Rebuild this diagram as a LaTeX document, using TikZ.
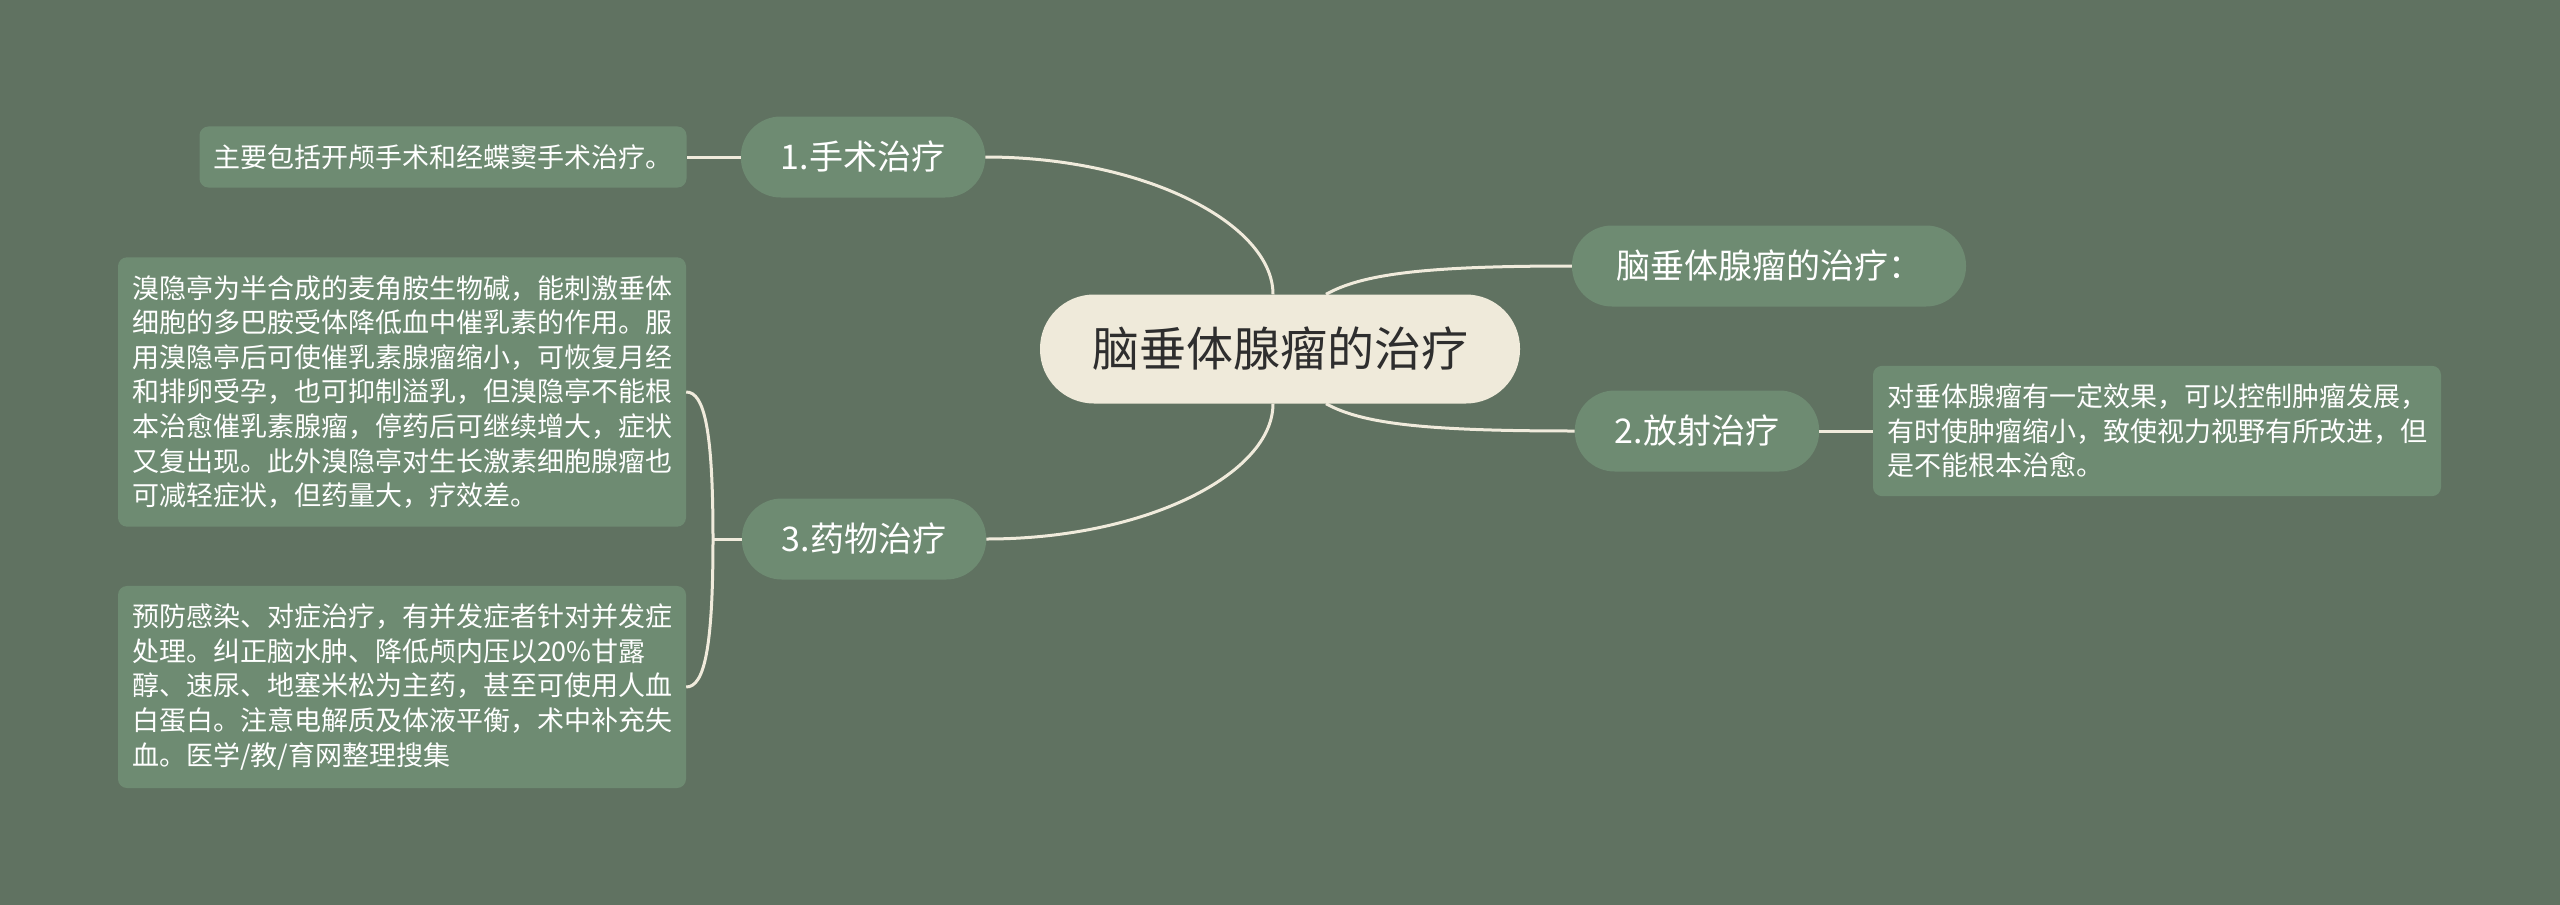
\documentclass[tikz,border=0pt]{standalone}
\usepackage{fontspec}
\newfontfamily\cjkfont{Noto Sans CJK SC}
\definecolor{bgcol}{RGB}{96,114,97}
\definecolor{leafcol}{RGB}{110,139,114}
\definecolor{linecol}{RGB}{240,235,220}
\definecolor{hubcol}{RGB}{239,234,218}
\definecolor{hubtext}{RGB}{46,46,46}

\begin{document}
\begin{tikzpicture}[x=1pt,y=-1pt,
  topic/.style={fill=leafcol, rounded corners=40pt, minimum height=81pt, inner xsep=40pt,
    text=white, font=\cjkfont\fontsize{34pt}{40pt}\selectfont},
  leaf/.style={fill=leafcol, rounded corners=9pt, inner xsep=14pt, inner ysep=18pt, align=left,
    text=white, font=\cjkfont\fontsize{27pt}{34.6pt}\selectfont},
  link/.style={draw=linecol, line width=3pt}]
% background
\fill[bgcol] (0,0) rectangle (2560,905);
\useasboundingbox (0,0) rectangle (2560,905);

% centre
\node[fill=hubcol, rounded corners=54pt, minimum height=109pt, inner xsep=52pt,
  text=hubtext, font=\cjkfont\fontsize{47pt}{52pt}\selectfont] (hub) at (1280,349) {脑垂体腺瘤的治疗};

% branches
\node[topic] (surg) at (863,157) {1.手术治疗};
\node[topic, inner xsep=44pt] (title) at (1769,266) {脑垂体腺瘤的治疗：};
\node[topic] (radio) at (1697,431) {2.放射治疗};
\node[topic] (drug) at (864,539) {3.药物治疗};

% leaves
\node[leaf] (surgtxt) at (443,157) {主要包括开颅手术和经蝶窦手术治疗。};
\node[leaf, text width=540pt] (radiotxt) at (2157,431) {对垂体腺瘤有一定效果，可以控制肿瘤发展，\\有时使肿瘤缩小，致使视力视野有所改进，但\\是不能根本治愈。};
\node[leaf, text width=540pt] (drugtxta) at (402,392) {溴隐亭为半合成的麦角胺生物碱，能刺激垂体\\细胞的多巴胺受体降低血中催乳素的作用。服\\用溴隐亭后可使催乳素腺瘤缩小，可恢复月经\\和排卵受孕，也可抑制溢乳，但溴隐亭不能根\\本治愈催乳素腺瘤，停药后可继续增大，症状\\又复出现。此外溴隐亭对生长激素细胞腺瘤也\\可减轻症状，但药量大，疗效差。};
\node[leaf, text width=540pt] (drugtxtb) at (402,687) {预防感染、对症治疗，有并发症者针对并发症\\处理。纠正脑水肿、降低颅内压以20\%甘露\\醇、速尿、地塞米松为主药，甚至可使用人血\\白蛋白。注意电解质及体液平衡，术中补充失\\血。医学/教/育网整理搜集};

% connectors
\draw[link] (surg.east) .. controls +(160,0) and +(0,-70) .. ([xshift=-7pt]hub.north);
\draw[link] (drug.east) .. controls +(160,0) and +(0,70) .. ([xshift=-7pt]hub.south);
\draw[link] ([xshift=46pt]hub.north) .. controls +(36,-20) and +(-150,0) .. (title.west);
\draw[link] ([xshift=46pt]hub.south) .. controls +(36,20) and +(-150,0) .. (radio.west);
\draw[link] (surg.west) -- (surgtxt.east);
\draw[link] (radio.east) -- (radiotxt.west);
\coordinate (fork) at (713,539);
\draw[link] (drug.west) -- (fork);
\draw[link] (fork) .. controls +(0,-110) and +(18,0) .. (drugtxta.east);
\draw[link] (fork) .. controls +(0,110) and +(18,0) .. (drugtxtb.east);
\end{tikzpicture}
\end{document}
